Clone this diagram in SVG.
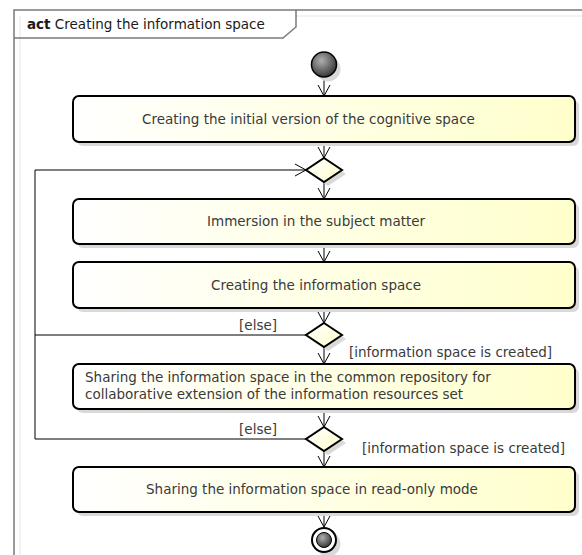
<svg xmlns="http://www.w3.org/2000/svg" width="582" height="555" viewBox="0 0 582 555">
<style>
text{font-family:"DejaVu Sans","Liberation Sans",sans-serif;font-size:13.5px;fill:#3a3a3a}
.title{fill:#1a1a1a}
.box{fill:url(#boxg);stroke:#000;stroke-width:2}
.shadow{fill:#d9d9d9;stroke:none}
.dia{fill:url(#diag);stroke:#000;stroke-width:2}
.edge{fill:none;stroke:#000;stroke-width:1}
.frame{fill:none;stroke:#7a7a7a;stroke-width:1.5}
.faint{fill:none;stroke:#e6e6e6;stroke-width:1}
</style>
<defs>
<linearGradient id="boxg" x1="0" y1="0" x2="1" y2="0">
<stop offset="0" stop-color="#ffffff"/>
<stop offset="1" stop-color="#ffffcc"/>
</linearGradient>
<linearGradient id="diag" x1="0" y1="0" x2="1" y2="1">
<stop offset="0" stop-color="#ffffff"/>
<stop offset="1" stop-color="#ffffcc"/>
</linearGradient>
<radialGradient id="ball" cx="0.4" cy="0.35" r="0.7">
<stop offset="0" stop-color="#b0b0b0"/>
<stop offset="1" stop-color="#303030"/>
</radialGradient>
<marker id="arr" markerUnits="userSpaceOnUse" markerWidth="14" markerHeight="14" viewBox="0 0 14 14" refX="12" refY="7" orient="auto">
<path d="M1,1 L12,7 L1,13" fill="none" stroke="#000" stroke-width="1"/>
</marker>
</defs>

<g id="frame">
<line class="faint" x1="20" y1="16" x2="20" y2="555"/>
<line class="faint" x1="296" y1="16" x2="582" y2="16"/>
<path class="frame" d="M14,555 L14,10 L582,10"/>
<path class="frame" d="M14,38 L283,38 L296,27 L296,10"/>
<text class="title" x="27" y="29"><tspan font-weight="bold">act</tspan> Creating the information space</text>
</g>

<g id="connectors">
<line class="edge" x1="324" y1="77" x2="324" y2="96" marker-end="url(#arr)"/>
<line class="edge" x1="324" y1="142" x2="324" y2="158" marker-end="url(#arr)"/>
<line class="edge" x1="324" y1="182" x2="324" y2="199" marker-end="url(#arr)"/>
<line class="edge" x1="324" y1="244" x2="324" y2="262" marker-end="url(#arr)"/>
<line class="edge" x1="324" y1="308" x2="324" y2="323" marker-end="url(#arr)"/>
<line class="edge" x1="324" y1="347" x2="324" y2="364" marker-end="url(#arr)"/>
<line class="edge" x1="324" y1="409" x2="324" y2="427" marker-end="url(#arr)"/>
<line class="edge" x1="324" y1="451" x2="324" y2="467" marker-end="url(#arr)"/>
<line class="edge" x1="324" y1="512" x2="324" y2="527" marker-end="url(#arr)"/>
<polyline class="edge" points="306,335 35,335"/>
<polyline class="edge" points="306,439 35,439 35,170 306,170" marker-end="url(#arr)"/>
<text x="277" y="330" text-anchor="end">[else]</text>
<text x="349" y="357">[information space is created]</text>
<text x="277" y="434" text-anchor="end">[else]</text>
<text x="362" y="453">[information space is created]</text>
</g>

<g id="start">
<circle cx="328" cy="69" r="12.5" class="shadow"/>
<circle cx="324" cy="64.5" r="12.5" fill="url(#ball)" stroke="#000" stroke-width="1.5"/>
</g>

<g id="n1">
<rect class="shadow" x="77" y="100" width="502" height="46" rx="6"/>
<rect class="box" x="73" y="96" width="502" height="46" rx="6"/>
<text x="142" y="124">Creating the initial version of the cognitive space</text>
</g>

<g id="d1">
<polygon class="shadow" points="328,162 346,174 328,186 310,174"/>
<polygon class="dia" points="324,158 342,170 324,182 306,170"/>
</g>

<g id="n2">
<rect class="shadow" x="77" y="203" width="502" height="45" rx="6"/>
<rect class="box" x="73" y="199" width="502" height="45" rx="6"/>
<text x="207" y="226">Immersion in the subject matter</text>
</g>

<g id="n3">
<rect class="shadow" x="77" y="266" width="502" height="46" rx="6"/>
<rect class="box" x="73" y="262" width="502" height="46" rx="6"/>
<text x="211" y="290">Creating the information space</text>
</g>

<g id="d2">
<polygon class="shadow" points="328,327 346,339 328,351 310,339"/>
<polygon class="dia" points="324,323 342,335 324,347 306,335"/>
</g>

<g id="n4">
<rect class="shadow" x="77" y="368" width="502" height="45" rx="6"/>
<rect class="box" x="73" y="364" width="502" height="45" rx="6"/>
<text x="85" y="382">Sharing the information space in the common repository for</text>
<text x="85" y="399">collaborative extension of the information resources set</text>
</g>

<g id="d3">
<polygon class="shadow" points="328,431 346,443 328,455 310,443"/>
<polygon class="dia" points="324,427 342,439 324,451 306,439"/>
</g>

<g id="n5">
<rect class="shadow" x="77" y="471" width="502" height="45" rx="6"/>
<rect class="box" x="73" y="467" width="502" height="45" rx="6"/>
<text x="146" y="494">Sharing the information space in read-only mode</text>
</g>

<g id="end">
<circle cx="328" cy="544" r="12.5" class="shadow"/>
<circle cx="324" cy="540" r="12" fill="#fff" stroke="#000" stroke-width="2"/>
<circle cx="324" cy="540" r="7.5" fill="url(#ball)" stroke="#000" stroke-width="1"/>
</g>
</svg>
